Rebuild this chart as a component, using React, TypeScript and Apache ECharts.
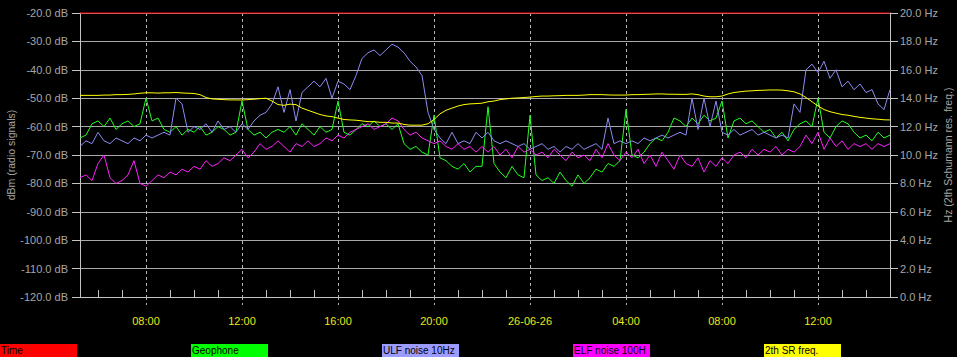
import React, { useEffect, useRef } from "react";
import * as echarts from "echarts";

// time axis: hours since 00:00 of 25-06-26
const startHour = 5.25;
const endHour = 39;
const stepHour = 0.25;

const majorHours = [8, 12, 16, 20, 24, 28, 32, 36];
const majorLabels = ["08:00", "12:00", "16:00", "20:00", "26-06-26", "04:00", "08:00", "12:00"];
const minorHours = [6, 7, 9, 10, 11, 13, 14, 15, 17, 18, 19, 21, 22, 23, 25, 26, 27, 29, 30, 31, 33, 34, 35, 37, 38];

const legendNames = ["Time", "Geophone", "ULF noise 10Hz", "ELF noise 100H", "2th SR freq."];

const timeLevel = [-20, -20];

const geophone = [
  -64, -63, -59, -58, -60, -57, -61, -59, -58, -60,
  -59, -50, -58, -57, -61, -62, -60, -63, -61, -62,
  -60, -63, -62, -60, -61, -63, -62, -51, -61, -63,
  -62, -64, -62, -61,
  -62, -60, -63, -59, -61, -63,
  -60, -62, -61, -51, -62, -63, -61, -59, -60, -58,
  -60, -59, -61, -59, -66, -68, -67, -69, -70, -56,
  -71, -72, -74, -75, -73, -76, -74, -74,
  -53, -73, -76, -78, -74, -77, -78, -56, -77, -79,
  -78, -80, -76, -79, -81, -77, -80, -78, -75, -76,
  -73, -74, -72, -54, -70, -71, -69, -66, -64, -65,
  -62, -57, -58, -60,
  -57, -59, -56, -58, -57, -51, -64, -58, -57, -59,
  -58, -60, -62, -61, -64, -62, -65, -61, -59, -58,
  -60, -50, -62, -64, -60, -58, -59, -62, -64, -63,
  -65, -62, -64, -63,
];

const ulfNoise = [
  -67, -65, -66, -62, -65, -66, -64, -65, -66, -64,
  -65, -63, -64, -63, -62, -63, -50, -52, -62, -60,
  -61, -59, -62, -58, -61, -60, -62, -59, -61, -58,
  -56, -55, -52, -46,
  -55, -47, -58, -48, -46, -44,
  -46, -43, -50, -44, -45, -47, -42, -36, -34, -33,
  -35, -33, -31, -32, -34, -37, -39, -42, -55, -61,
  -64, -66, -62, -66, -65, -66, -62, -64,
  -62, -65, -66, -65, -66, -67, -66, -68, -67, -66,
  -68, -67, -69, -67, -68, -66, -68, -67, -66, -68,
  -57, -66, -65, -66, -65, -66, -64, -65, -64, -63,
  -64, -63, -62, -63,
  -50, -61, -50, -60, -51, -62, -63, -61, -63, -62,
  -61, -63, -62, -63, -64, -63, -64, -52, -55, -40,
  -38, -41, -37, -43, -40, -46, -44, -47, -45, -48,
  -47, -52, -54, -47,
];

const elfNoise = [
  -78, -77, -79, -73, -70, -78, -80, -79, -77, -72,
  -80, -81, -79, -77, -78, -76, -77, -75, -76, -74,
  -75, -72, -74, -73, -71, -72, -70, -68, -71, -69,
  -66, -68, -67, -65,
  -67, -69, -66, -67, -65, -67,
  -66, -64, -65, -63, -64, -62, -61, -60, -59, -61,
  -60, -59, -57, -58, -61, -63, -62, -64, -65, -66,
  -65, -67, -68, -66, -68, -67, -69, -67,
  -69, -67, -70, -68, -71, -67, -69, -68, -70, -69,
  -71, -68, -70, -72, -69, -71, -70, -72, -68, -71,
  -66, -70, -72, -69, -71, -68, -73, -70, -74, -69,
  -72, -75, -70, -73,
  -74, -71, -76, -72, -74, -71, -73, -70, -69, -71,
  -68, -70, -68, -69, -67, -70, -68, -69, -67, -63,
  -66, -62, -68, -64, -67, -65, -68, -66, -67, -66,
  -68, -66, -67, -66,
];

const srFreq = [
  14.2, 14.2, 14.2, 14.2, 14.22, 14.22, 14.25, 14.25, 14.27, 14.3,
  14.35, 14.38, 14.38, 14.36, 14.38, 14.38, 14.4, 14.37, 14.35, 14.33,
  14.25, 14.05, 13.95, 13.92, 13.9, 13.88, 13.88, 13.87, 13.9, 13.93,
  13.97, 14.0, 13.8, 13.55,
  13.5, 13.58, 13.55, 13.3, 13.15, 13.0,
  12.85, 12.75, 12.7, 12.6, 12.5, 12.47, 12.45, 12.4, 12.35, 12.35,
  12.3, 12.3, 12.25, 12.25, 12.15, 12.1, 12.1, 12.1, 12.2, 12.5,
  12.9, 13.15, 13.3, 13.45, 13.55, 13.6, 13.62, 13.65,
  13.75, 13.8, 13.9, 13.95, 14.0, 14.02, 14.05, 14.08, 14.12, 14.15,
  14.15, 14.17, 14.18, 14.2, 14.2, 14.2, 14.22, 14.25, 14.25, 14.25,
  14.23, 14.22, 14.22, 14.22, 14.25, 14.25, 14.27, 14.28, 14.3, 14.3,
  14.28, 14.28, 14.27, 14.27,
  14.3, 14.25, 14.15, 14.1, 14.1, 14.15, 14.3, 14.4, 14.45, 14.5,
  14.52, 14.55, 14.56, 14.58, 14.58, 14.57, 14.52, 14.45, 14.3, 14.05,
  13.75, 13.45, 13.2, 13.05, 12.95, 12.85, 12.8, 12.72, 12.65, 12.6,
  12.55, 12.52, 12.48, 12.47,
];

const FONT = "'Liberation Sans', Arial, sans-serif";
const colors = {
  time: "#ff0000",
  geo: "#22ff22",
  ulf: "#8c8cf2",
  elf: "#ff22ff",
  sr: "#ffff00",
};
const legendColors = ["#ff0000", "#00ff00", "#9c9cff", "#ff00ff", "#ffff00"];

export default function App() {
  const ref = useRef<HTMLDivElement>(null);

  useEffect(() => {
    if (!ref.current) return;
    const chart = echarts.init(ref.current, undefined, { renderer: "svg" });
    const times = geophone.map((_, i) => startHour + i * stepHour);
    const pairs = (arr: number[]) => arr.map((v, i) => [times[i], v]);

    const labelFor = (v: number) => {
      const idx = majorHours.indexOf(Math.round(v));
      return idx >= 0 ? majorLabels[idx] : "";
    };

    const lineSeries = (name: string, data: any[], color: string, yAxisIndex = 0) => ({
      name,
      type: "line",
      xAxisIndex: 0,
      yAxisIndex,
      data,
      symbol: "none",
      showSymbol: false,
      silent: true,
      clip: false,
      lineStyle: { color, width: 1 },
      itemStyle: { color },
    });

    const gray = "#c4c4c4";
    const textGray = "#a6a6a6";

    const option: any = {
      animation: false,
      backgroundColor: "#000000",
      textStyle: { fontFamily: FONT },
      grid: { left: 80, right: 67, top: 13, bottom: 60, containLabel: false, outerBoundsMode: "none" },
      xAxis: [
        {
          type: "value",
          min: startHour,
          max: endHour,
          position: "bottom",
          axisLine: { show: true, lineStyle: { color: gray, width: 1 } },
          axisTick: {
            show: true,
            customValues: majorHours,
            length: 8,
            lineStyle: { color: "#b4b4b4", type: [3, 3] },
          },
          axisLabel: {
            customValues: majorHours,
            formatter: labelFor,
            color: "#e8e81a",
            fontSize: 11,
            fontFamily: FONT,
            margin: 18,
          },
          splitLine: { show: true, lineStyle: { color: "#b4b4b4", type: [3, 3], width: 1 } },
        },
        {
          type: "value",
          min: startHour,
          max: endHour,
          position: "bottom",
          axisLine: { show: false },
          axisLabel: { show: false },
          splitLine: { show: false },
          axisTick: {
            show: true,
            inside: true,
            length: 7,
            customValues: minorHours,
            lineStyle: { color: gray },
          },
        },
      ],
      yAxis: [
        {
          type: "value",
          min: -120,
          max: -20,
          interval: 10,
          position: "left",
          name: "dBm (radio signals)",
          nameLocation: "middle",
          nameGap: 64,
          nameRotate: 90,
          nameMoveOverlap: false,
          nameTextStyle: { color: textGray, fontSize: 10.5, fontFamily: FONT },
          axisLine: { show: true, lineStyle: { color: gray } },
          axisTick: { show: true, length: 8, lineStyle: { color: gray } },
          axisLabel: {
            formatter: (v: number) => v.toFixed(1) + " dB",
            color: textGray,
            fontSize: 11,
            fontFamily: FONT,
            margin: 12,
          },
          splitLine: { show: true, lineStyle: { color: "#a8a8a8", width: 1 } },
        },
        {
          type: "value",
          min: 0,
          max: 20,
          interval: 2,
          position: "right",
          name: "Hz (2th Schumann res. freq.)",
          nameLocation: "middle",
          nameGap: 52,
          nameRotate: 90,
          nameMoveOverlap: false,
          nameTextStyle: { color: textGray, fontSize: 10.5, fontFamily: FONT },
          axisLine: { show: true, lineStyle: { color: gray } },
          axisTick: { show: true, length: 8, lineStyle: { color: gray } },
          axisLabel: {
            formatter: (v: number) => v.toFixed(1) + " Hz",
            color: textGray,
            fontSize: 11,
            fontFamily: FONT,
            margin: 10,
          },
          splitLine: { show: false },
        },
      ],
      graphic: legendNames.map((name, i) => ({
        type: "group",
        x: Math.round(i * 191),
        y: 344,
        silent: true,
        children: [
          { type: "rect", shape: { x: 0, y: 0, width: 77, height: 13 }, style: { fill: legendColors[i] } },
          {
            type: "text",
            x: 1,
            y: 6.5,
            style: {
              text: name,
              fill: "#000000",
              fontSize: 10,
              fontFamily: FONT,
              verticalAlign: "middle",
              align: "left",
            },
          },
        ],
      })),
      series: [
        lineSeries(legendNames[0], [[startHour, timeLevel[0]], [endHour, timeLevel[1]]], colors.time),
        lineSeries(legendNames[1], pairs(geophone), colors.geo),
        lineSeries(legendNames[2], pairs(ulfNoise), colors.ulf),
        lineSeries(legendNames[3], pairs(elfNoise), colors.elf),
        lineSeries(legendNames[4], pairs(srFreq), colors.sr, 1),
      ],
    };

    chart.setOption(option);
    return () => chart.dispose();
  }, []);

  return (
    <div
      ref={ref}
      style={{ position: "fixed", left: 0, top: 0, width: 957, height: 357, background: "#000" }}
    />
  );
}
